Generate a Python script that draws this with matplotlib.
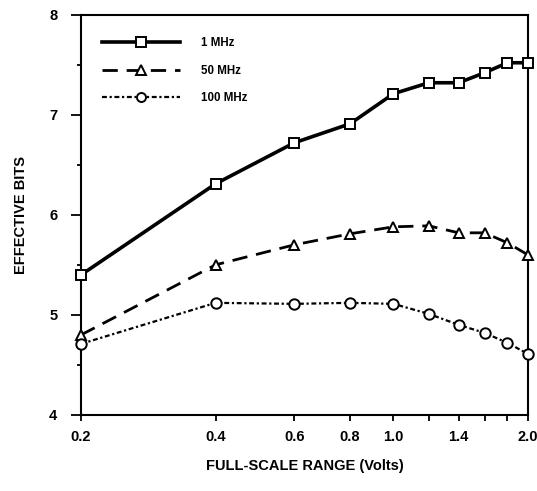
import numpy as np
import matplotlib
matplotlib.use("Agg")
import matplotlib.pyplot as plt
from matplotlib.ticker import FixedLocator, NullFormatter, FixedFormatter

# === Data ===
volts = [0.2, 0.4, 0.6, 0.8, 1.0, 1.2, 1.4, 1.6, 1.8, 2.0]
bits_1mhz = [5.4, 6.31, 6.72, 6.91, 7.21, 7.32, 7.32, 7.42, 7.52, 7.52]
bits_50mhz = [4.8, 5.5, 5.7, 5.81, 5.88, 5.89, 5.82, 5.82, 5.72, 5.6]
bits_100mhz = [4.71, 5.12, 5.11, 5.12, 5.11, 5.01, 4.9, 4.82, 4.72, 4.61]

xtick_vals = [0.2, 0.4, 0.6, 0.8, 1.0, 1.2, 1.4, 1.6, 1.8, 2.0]
xtick_labels = ["0.2", "0.4", "0.6", "0.8", "1.0", "", "1.4", "", "", "2.0"]

plt.rcParams["font.family"] = ["Liberation Sans", "DejaVu Sans"]
plt.rcParams["font.weight"] = "bold"

# === Plot ===
fig = plt.figure(figsize=(5.37, 4.91), dpi=100)
ax = fig.add_axes([0.151, 0.155, 0.832, 0.815])

mk = dict(markerfacecolor="white", markeredgecolor="black", markeredgewidth=1.4,
          clip_on=False, zorder=3)
ax.plot(volts, bits_1mhz, color="black", lw=2.6, marker="s", ms=7, label="1 MHz", **mk)
ax.plot(volts, bits_50mhz, color="black", lw=2.0, marker="^", ms=7.5, dashes=(5.5, 3.2),
        label="50 MHz", **mk)
ax.plot(volts, bits_100mhz, color="black", lw=1.6, marker="o", ms=7.5,
        dashes=(2.2, 1.2, 1.0, 1.2), label="100 MHz", **mk)

ax.set_xscale("log")
ax.set_xlim(0.2, 2.0)
ax.set_ylim(4, 8)
ax.xaxis.set_major_locator(FixedLocator(xtick_vals))
ax.xaxis.set_major_formatter(FixedFormatter(xtick_labels))
ax.xaxis.set_minor_locator(FixedLocator([]))
ax.xaxis.set_minor_formatter(NullFormatter())
ax.set_yticks([4, 5, 6, 7, 8])
ax.set_yticks([4.5, 5.5, 6.5, 7.5], minor=True)

ax.tick_params(axis="x", direction="out", length=4, width=1.3, labelsize=10.5, pad=7)
ax.tick_params(axis="y", which="major", direction="out", length=7, width=1.3,
               labelsize=10.5, pad=10)
ax.tick_params(axis="y", which="minor", direction="out", length=3, width=1.3)
for lab in ax.get_xticklabels() + ax.get_yticklabels():
    lab.set_fontweight("bold")
for s in ax.spines.values():
    s.set_linewidth(1.5)

ax.set_xlabel("FULL-SCALE RANGE (Volts)", fontsize=10.5, fontweight="bold", labelpad=11)
ax.set_ylabel("EFFECTIVE BITS", fontsize=10.5, fontweight="bold", labelpad=15)

leg = ax.legend(loc="upper left", bbox_to_anchor=(0.036, 0.955), borderaxespad=0,
                frameon=False, numpoints=1, handlelength=6.8, handletextpad=1.8,
                labelspacing=1.35, prop={"size": 8.3, "weight": "bold"})
for h in leg.legend_handles:
    h.set_markersize(6.5)

plt.savefig("out.png", dpi=100)
